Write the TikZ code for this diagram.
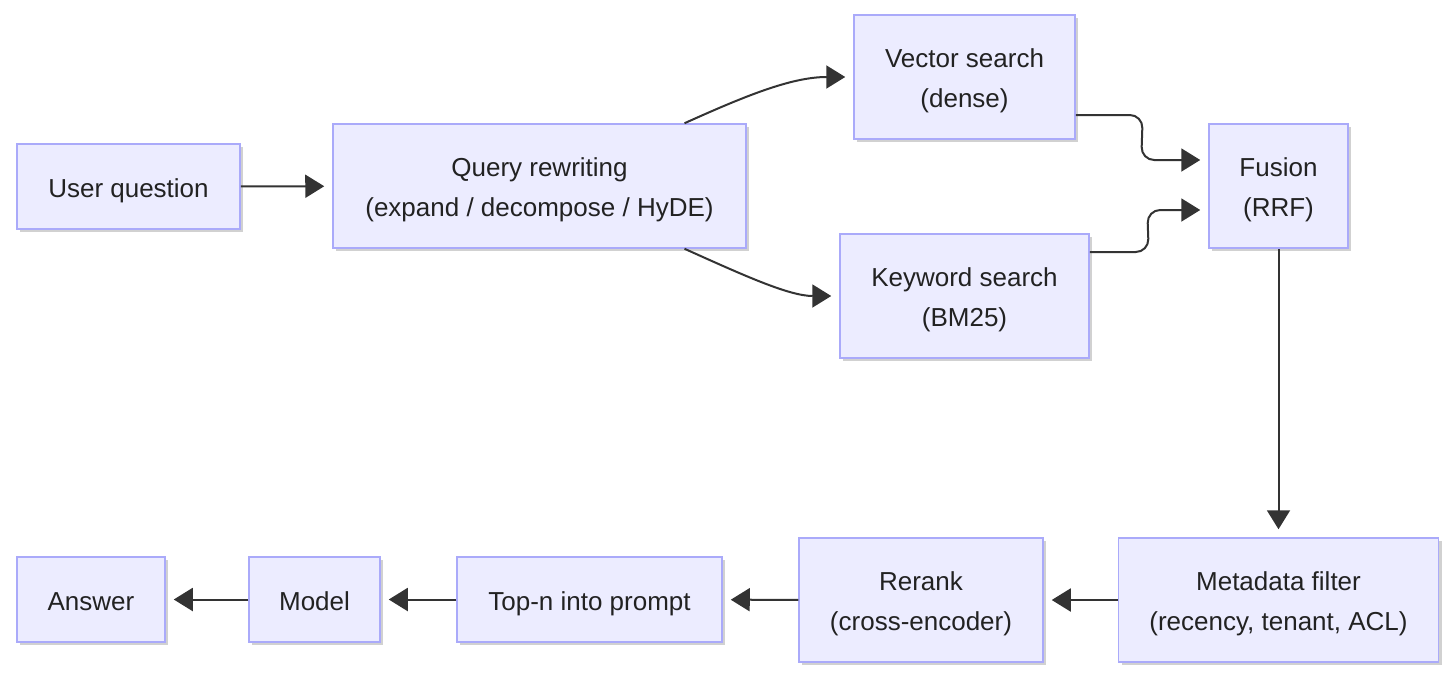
\documentclass[tikz,border=0pt]{standalone}
\usepackage{fontspec}
\setmainfont{Liberation Sans}
\usetikzlibrary{arrows.meta,shadows,calc}
\definecolor{boxfill}{HTML}{ECECFF}
\definecolor{boxline}{HTML}{AAAAFA}
\definecolor{edgecol}{HTML}{333333}
\definecolor{txt}{HTML}{222222}
\newcommand{\lowtxt}[1]{\raisebox{-2.5pt}[\height][\depth]{\begin{tabular}{@{}c@{}}#1\end{tabular}}}
\begin{document}
\begin{tikzpicture}[x=1pt,y=-1pt,
  box/.style={draw=boxline, line width=1.5pt, fill=boxfill, rectangle, inner sep=0pt,
    text=txt, font=\fontsize{26}{40}\selectfont,
    drop shadow={shadow xshift=3pt, shadow yshift=-3pt, opacity=0.18, fill=black}},
  edge/.style={draw=edgecol, line width=2pt, shorten >=8pt,
    -{Triangle[length=19pt,width=23pt]}}
]
\useasboundingbox (0,0) rectangle (1456,677);
\node[box, minimum width=223pt, minimum height=85pt] (uq) at (128.5,186.5) {\lowtxt{User question}};
\node[box, minimum width=413pt, minimum height=124pt] (qr) at (539.5,186) {\lowtxt{Query rewriting\\(expand / decompose / HyDE)}};
\node[box, minimum width=221pt, minimum height=124pt] (vs) at (964.5,77) {\lowtxt{Vector search\\(dense)}};
\node[box, minimum width=249pt, minimum height=124pt] (ks) at (964.5,296) {\lowtxt{Keyword search\\(BM25)}};
\node[box, minimum width=139pt, minimum height=124pt] (fu) at (1278.5,186) {\lowtxt{Fusion\\(RRF)}};
\node[box, minimum width=320pt, minimum height=124pt] (mf) at (1278.5,600) {\lowtxt{Metadata filter\\(recency, tenant, ACL)}};
\node[box, minimum width=244pt, minimum height=124pt] (rr) at (921,600) {\lowtxt{Rerank\\(cross-encoder)}};
\node[box, minimum width=265pt, minimum height=85pt] (tn) at (589.5,599.5) {\lowtxt{Top-n into prompt}};
\node[box, minimum width=131pt, minimum height=85pt] (mo) at (314.5,599.5) {\lowtxt{Model}};
\node[box, minimum width=148pt, minimum height=85pt] (an) at (91,599.5) {\lowtxt{Answer}};

\draw[edge] (uq) -- (qr);
\draw[edge] ($(qr.north)+(145,0)$) .. controls ($(qr.north)+(205,-27)$) and ($(vs.west)+(-62,0)$) .. (vs.west);
\draw[edge] ($(qr.south)+(145,0)$) .. controls ($(qr.south)+(205,27)$) and ($(ks.west)+(-50,0)$) .. (ks.west);
\draw[edge, rounded corners=13pt] ($(vs.east)+(0,38)$) -- ($(vs.east)+(67,38)$) -- ($(fu.west)+(-67,-26)$) -- ($(fu.west)+(0,-26)$);
\draw[edge, rounded corners=13pt] ($(ks.east)+(0,-44)$) -- ($(ks.east)+(59,-44)$) -- ($(fu.west)+(-61,24)$) -- ($(fu.west)+(0,24)$);
\draw[edge] (fu) -- (mf);
\draw[edge] (mf) -- (rr);
\draw[edge] (rr) -- (tn);
\draw[edge] (tn) -- (mo);
\draw[edge] (mo) -- (an);
\end{tikzpicture}
\end{document}
